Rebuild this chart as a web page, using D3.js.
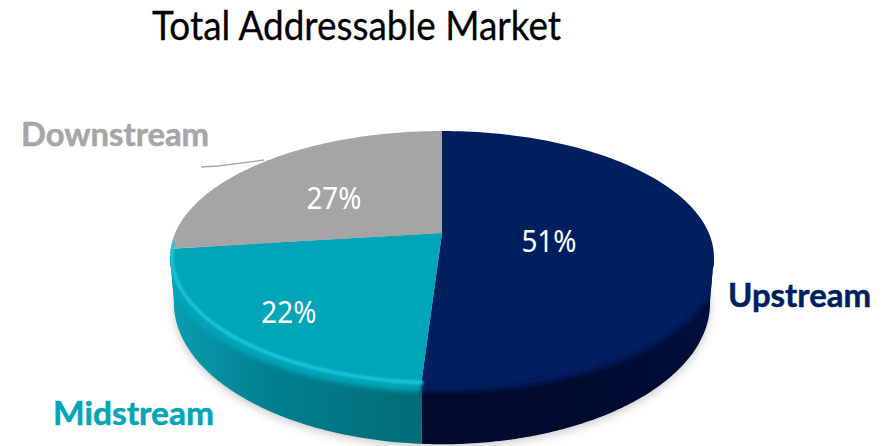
<!DOCTYPE html>
<html>
<head>
<meta charset="utf-8">
<style>html,body{margin:0;padding:0;background:#fff}svg{display:block}</style>
<script src="https://cdnjs.cloudflare.com/ajax/libs/d3/7.9.0/d3.min.js"></script>
</head>
<body>
<svg id="chart" width="889" height="446"></svg>
<script>
// Market share by segment
const categories = ["Upstream", "Midstream", "Downstream"];
const shares = [51, 22, 27];
const chartTitle = "Total Addressable Market";

const faceColors = ["#001f5f", "#00a5b8", "#a5a5a5"];
const rimColors = ["#001f5f", "#00a5b8"];
const labelColors = ["#001f5f", "#00a5b8", "#a6a6a6"];
const valueRadius = [0.4, 0.75, 0.58];
const valueNudge = [1, 0, 3];

const svg = d3.select("#chart");
const defs = svg.append("defs");
[["soft1", 1.1], ["soft2", 2.6], ["soft5", 5]].forEach(([id, sd]) => {
  defs.append("filter").attr("id", id)
    .attr("x", "-10%").attr("y", "-10%").attr("width", "120%").attr("height", "120%")
    .append("feGaussianBlur").attr("stdDeviation", sd);
});

// Tilted disc: a perspective projection of the unit circle, with the near edge enlarged
const tilt = -0.1937;
const project = (cx, cy, dx, dy) => (angle, r = 1) => {
  const u = r * Math.sin(angle), v = -r * Math.cos(angle), w = 1 + tilt * v;
  return [cx + dx * u / w, cy + dy * v / w];
};
const topRim = project(442, 233, 266.8, 121.75);
const baseRim = project(442, 275.6, 263, 136);

const slices = d3.pie().sort(null).value(d => d)(shares);
const line = d3.line();
const sweep = (a0, a1, f) => d3.range(0, 121).map(i => f(a0 + (a1 - a0) * i / 120));

// Drop shadow beneath the disc
svg.append("path")
  .attr("d", line(sweep(0, 2 * Math.PI, a => baseRim(a))) + "Z")
  .attr("transform", "translate(0,3)")
  .attr("fill", "#8c8c8c").attr("opacity", 0.45).attr("filter", "url(#soft5)");

// Side wall shading runs left to right across each visible segment
const wallStops = [
  [[0, "#000a2c"], [0.6, "#000b30"], [1, "#000f3e"]],
  [[0, "#0c9db1"], [0.4, "#00808f"], [1, "#026c78"]]
];
wallStops.forEach((stops, i) => {
  const g = defs.append("linearGradient").attr("id", "wall" + i);
  stops.forEach(([o, c]) => g.append("stop").attr("offset", o).attr("stop-color", c));
});

const leftSilhouette = 4.53, rightSilhouette = 1.75;
const wallRanges = [
  [rightSilhouette, slices[0].endAngle],
  [slices[1].startAngle, leftSilhouette]
];
wallRanges.forEach(([a0, a1], i) => {
  const edge = sweep(a0, a1, a => topRim(a)).concat(sweep(a1, a0, a => baseRim(a)));
  svg.append("path").attr("d", line(edge) + "Z").attr("fill", `url(#wall${i})`);
});

// The bevel stays inside the body of the disc
svg.append("clipPath").attr("id", "bodyClip").append("path")
  .attr("d", line(sweep(0, 2 * Math.PI, a => topRim(a))) + "Z"
    + line(sweep(rightSilhouette, leftSilhouette, a => topRim(a))
      .concat(sweep(leftSilhouette, rightSilhouette, a => baseRim(a)))) + "Z")
  .attr("clip-rule", "nonzero");

// Soft bevel along the front rim, in each segment's own colour
const bevel = svg.append("g").attr("clip-path", "url(#bodyClip)");
wallRanges.forEach(([a0, a1], i) => {
  bevel.append("path")
    .attr("d", line(sweep(a0, a1, a => {
      const [x, y] = topRim(a);
      return [x, y + 2];
    })))
    .attr("fill", "none")
    .attr("stroke", rimColors[i])
    .attr("stroke-width", 12)
    .attr("filter", "url(#soft2)");
});

// Top face of each segment
slices.forEach((s, i) => {
  const pts = [topRim(0, 0)].concat(sweep(s.startAngle, s.endAngle, a => topRim(a)));
  svg.append("path").attr("d", line(pts) + "Z")
    .attr("fill", faceColors[i]);
});

// Bright highlight on the near edge of the teal segment
const glint = svg.append("g").attr("clip-path", "url(#bodyClip)");
glint.append("path")
  .attr("d", line(sweep(slices[1].startAngle, slices[1].endAngle + 0.05, a => {
    const [x, y] = topRim(a);
    return [x + 2, y - 1];
  })))
  .attr("fill", "none")
  .attr("stroke", "#1cc6db").attr("stroke-width", 3.5)
  .attr("filter", "url(#soft1)");

// Share labels placed along each segment's mid-angle
slices.forEach((s, i) => {
  const [x, y] = topRim((s.startAngle + s.endAngle) / 2, valueRadius[i]);
  svg.append("text").attr("x", x).attr("y", y + 16 + valueNudge[i])
    .attr("text-anchor", "middle")
    .attr("font-family", "'Noto Sans', sans-serif")
    .attr("font-size", 31).attr("fill", "#fff")
    .attr("textLength", 55).attr("lengthAdjust", "spacingAndGlyphs")
    .text(shares[i] + "%");
});

// Leader line from the Downstream name to its segment
svg.append("path")
  .attr("d", line([[201, 167], [218, 166], [264, 160]]))
  .attr("fill", "none").attr("stroke", "#a6a6a6").attr("stroke-width", 1.3);

// Category names
const namePlacement = [[728, 307, 143], [53, 425, 161], [21, 146, 188]];
categories.forEach((name, i) => {
  const [x, y, w] = namePlacement[i];
  svg.append("text").attr("x", x).attr("y", y)
    .attr("font-family", "Lato, sans-serif")
    .attr("font-weight", 700).attr("font-size", 32)
    .attr("fill", labelColors[i])
    .attr("stroke", labelColors[i]).attr("stroke-width", 0.5)
    .attr("textLength", w).attr("lengthAdjust", "spacingAndGlyphs")
    .text(name);
});

svg.append("text").attr("x", 152).attr("y", 40)
  .attr("font-family", "Lato, sans-serif")
  .attr("font-size", 40).attr("fill", "#000")
  .attr("stroke", "#000").attr("stroke-width", 0.3)
  .attr("textLength", 409).attr("lengthAdjust", "spacingAndGlyphs")
  .text(chartTitle);
</script>
</body>
</html>
